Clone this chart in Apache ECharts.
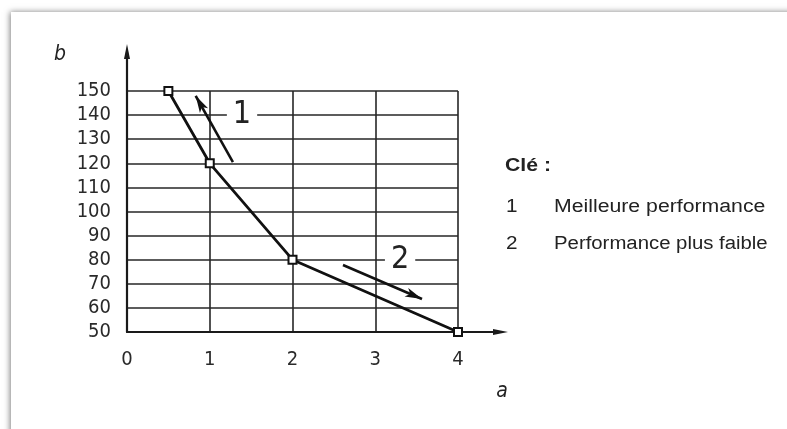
<!DOCTYPE html>
<html>
<head>
<meta charset="utf-8">
<script src="https://cdn.jsdelivr.net/npm/echarts@6/dist/echarts.min.js"></script>
<style>
  html, body { margin: 0; padding: 0; background: #fff; }
  #chart { width: 787px; height: 429px; }
</style>
</head>
<body>
<div id="chart"></div>
<script>
// Curve points (a, b)
var curveA = [0.5, 1, 2, 4];
var curveB = [150, 120, 80, 50];

// Axis ranges and ticks
var aTicks = [0, 1, 2, 3, 4];
var bTicks = [50, 60, 70, 80, 90, 100, 110, 120, 130, 140, 150];

// Trend arrows: [start, end] in (a, b) units, and their callout numbers
var arrowBetter = [[1.28, 120.5], [0.83, 148]];
var arrowWorse = [[2.61, 77.8], [3.565, 63.7]];
var calloutNumbers = ['1', '2'];
var calloutAt = [[1.39, 140], [3.30, 80]];

// Key
var keyTitle = 'Clé :';
var keyItems = ['Meilleure performance', 'Performance plus faible'];

var narrow = '"Liberation Sans Narrow", "DejaVu Sans Condensed", "Liberation Sans", sans-serif';
var sans = '"Liberation Sans", Arial, sans-serif';
var ink = '#1a1a1a';

var chart = echarts.init(document.getElementById('chart'), null, { renderer: 'canvas' });

var points = curveA.map(function (a, i) { return [a, curveB[i]]; });

function arrowLine(pair) {
  return [{ coord: pair[0] }, { coord: pair[1] }];
}

chart.setOption({
  backgroundColor: '#ffffff',
  animation: false,
  grid: { left: 127, top: 91, width: 331, height: 241, containLabel: false },
  xAxis: {
    type: 'value', min: aTicks[0], max: aTicks[aTicks.length - 1], interval: 1,
    axisLine: { show: true, lineStyle: { color: ink, width: 2.2 } },
    axisTick: { show: false },
    axisLabel: { margin: 18, color: '#2a2a2a', fontFamily: narrow, fontSize: 20 },
    splitLine: { show: true, lineStyle: { color: '#262626', width: 1.6 } }
  },
  yAxis: {
    type: 'value', min: bTicks[0], max: bTicks[bTicks.length - 1], interval: 10,
    axisLine: { show: true, lineStyle: { color: ink, width: 2.2 } },
    axisTick: { show: false },
    axisLabel: { margin: 16, color: '#2a2a2a', fontFamily: narrow, fontSize: 20 },
    splitLine: { show: true, lineStyle: { color: '#262626', width: 1.6 } }
  },
  series: [{
    type: 'line',
    data: points,
    symbol: 'rect',
    symbolSize: 8,
    showAllSymbol: true,
    lineStyle: { color: '#111', width: 2.8 },
    itemStyle: { color: '#fff', borderColor: '#111', borderWidth: 2 },
    z: 5,
    markLine: {
      silent: true,
      symbol: ['none', 'arrow'],
      symbolSize: [7, 17],
      label: { show: false },
      lineStyle: { color: '#111', width: 2.6, type: 'solid' },
      data: [arrowLine(arrowBetter), arrowLine(arrowWorse)]
    },
    markPoint: {
      silent: true,
      symbol: 'circle',
      symbolSize: 0,
      data: calloutNumbers.map(function (t, i) {
        return {
          coord: calloutAt[i],
          value: t,
          label: {
            show: true, position: 'inside', formatter: t,
            fontFamily: narrow, fontSize: 32, color: '#222',
            backgroundColor: '#fff', padding: [0, 6, 0, 6], lineHeight: 30
          }
        };
      })
    }
  }]
});

// Axis extensions with arrowheads, the axis titles, the key and the page frame
function drawDecor() {
  var origin = chart.convertToPixel({ gridIndex: 0 }, [aTicks[0], bTicks[0]]);
  var topLeft = chart.convertToPixel({ gridIndex: 0 }, [aTicks[0], bTicks[bTicks.length - 1]]);
  var rightEnd = chart.convertToPixel({ gridIndex: 0 }, [aTicks[aTicks.length - 1], bTicks[0]]);
  var yTip = topLeft[1] - 47;
  var xTip = rightEnd[0] + 50;
  function keyText(x, y, text, sx, bold) {
    return { type: 'text', x: x, y: y, scaleX: sx, silent: true,
      style: { text: text, fontFamily: sans, fontWeight: bold ? 'bold' : 'normal',
               fontSize: 18, fill: '#222', verticalAlign: 'middle' } };
  }
  chart.setOption({
    graphic: [
      { type: 'rect', z: -10, silent: true,
        shape: { x: 11, y: 12, width: 800, height: 440 },
        style: { fill: '#fff', shadowColor: 'rgba(0,0,0,0.5)', shadowBlur: 6, shadowOffsetX: -1, shadowOffsetY: 0 } },
      { type: 'line', z: 3, silent: true,
        shape: { x1: origin[0], y1: topLeft[1], x2: origin[0], y2: yTip + 12 },
        style: { stroke: ink, lineWidth: 2.2 } },
      { type: 'polygon', z: 3, silent: true,
        shape: { points: [[origin[0], yTip], [origin[0] - 3, yTip + 15], [origin[0] + 3, yTip + 15]] },
        style: { fill: ink } },
      { type: 'line', z: 3, silent: true,
        shape: { x1: rightEnd[0], y1: origin[1], x2: xTip - 12, y2: origin[1] },
        style: { stroke: ink, lineWidth: 2.2 } },
      { type: 'polygon', z: 3, silent: true,
        shape: { points: [[xTip, origin[1]], [xTip - 15, origin[1] - 3], [xTip - 15, origin[1] + 3]] },
        style: { fill: ink } },
      { type: 'text', x: 60, y: 55, silent: true,
        style: { text: 'b', fontFamily: narrow, fontStyle: 'italic', fontSize: 21, fill: '#222',
                 align: 'center', verticalAlign: 'middle' } },
      { type: 'text', x: 502, y: 392, silent: true,
        style: { text: 'a', fontFamily: narrow, fontStyle: 'italic', fontSize: 21, fill: '#222',
                 align: 'center', verticalAlign: 'middle' } },
      keyText(505, 166, keyTitle, 1.18, true),
      keyText(506, 207, '1', 1.15, false),
      keyText(554, 207, keyItems[0], 1.18, false),
      keyText(506, 244, '2', 1.15, false),
      keyText(554, 244, keyItems[1], 1.13, false)
    ]
  });
}
drawDecor();
</script>
</body>
</html>
